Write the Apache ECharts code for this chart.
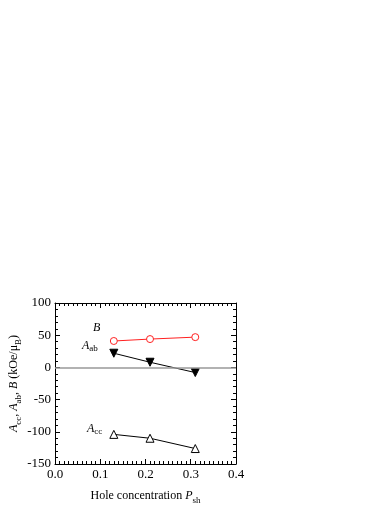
<!DOCTYPE html>
<html><head><meta charset="utf-8">
<script src="https://cdn.jsdelivr.net/npm/echarts@6/dist/echarts.min.js"></script>
<style>html,body{margin:0;padding:0;background:#fff}#c{width:391px;height:506px}</style>
</head><body><div id="c"></div>
<script>
const xValues = [0.13, 0.21, 0.31];
const bValues = [41, 44, 47];
const aabValues = [22, 8, -8];
const accValues = [-104, -110, -126];
const xTicks = [0.0, 0.1, 0.2, 0.3, 0.4];
const yTicks = [-150, -100, -50, 0, 50, 100];

const F = 'Liberation Serif';
const chart = echarts.init(document.getElementById('c'));
const pair = v => xValues.map((x, i) => [x, v[i]]);
const line = {show: true, onZero: false, lineStyle: {color: '#000', width: 1}};
const tick = {show: true, inside: true, length: 5, lineStyle: {color: '#000'}};
const sub = {fontFamily: F, fontSize: 9, verticalAlign: 'bottom', padding: [0,0,-3,0], color: '#000'};
chart.setOption({
  animation: false,
  grid: {left: 55, right: 155, top: 303, bottom: 40},
  xAxis: [
    {type: 'value', min: xTicks[0], max: xTicks[xTicks.length-1], interval: 0.1, position: 'bottom',
      axisLine: line, axisTick: tick, splitLine: {show: false},
      minorTick: {show: true, splitNumber: 10, length: 3, lineStyle: {color: '#000'}},
      axisLabel: {color: '#000', fontFamily: F, fontSize: 13, margin: 4,
        formatter: v => v.toFixed(1)},
      name: '{n|Hole concentration }{i|P}{s|sh}', nameLocation: 'middle', nameGap: 26,
      nameTextStyle: {rich: {n: {fontFamily: F, fontSize: 12, color: '#000'},
        i: {fontFamily: F, fontSize: 12, fontStyle: 'italic', color: '#000'}, s: sub}}
    },
    {type: 'value', min: xTicks[0], max: xTicks[xTicks.length-1], interval: 0.1, position: 'top',
      axisLine: line, axisTick: tick, splitLine: {show: false},
      minorTick: {show: true, splitNumber: 10, length: 3, lineStyle: {color: '#000'}},
      axisLabel: {show: false}}
  ],
  yAxis: [
    {type: 'value', min: yTicks[0], max: yTicks[yTicks.length-1], interval: 50, position: 'left',
      axisLine: line, axisTick: tick, splitLine: {show: false},
      minorTick: {show: true, splitNumber: 5, length: 3, lineStyle: {color: '#000'}},
      axisLabel: {color: '#000', fontFamily: F, fontSize: 13, margin: 4},
      name: '{i|A}{s|cc}{n|, }{i|A}{s|ab}{n|, }{i|B}{n| (kOe/μ}{s|B}{n|)}',
      nameLocation: 'middle', nameGap: 33, nameRotate: 90,
      nameTextStyle: {rich: {n: {fontFamily: F, fontSize: 12, color: '#000'},
        i: {fontFamily: F, fontSize: 12, fontStyle: 'italic', color: '#000'}, s: sub}}
    },
    {type: 'value', min: yTicks[0], max: yTicks[yTicks.length-1], interval: 50, position: 'right',
      axisLine: line, axisTick: tick, splitLine: {show: false},
      minorTick: {show: true, splitNumber: 5, length: 3, lineStyle: {color: '#000'}},
      axisLabel: {show: false}}
  ],
  series: [
    {type: 'line', data: pair(bValues), symbol: 'circle', symbolSize: 7,
      lineStyle: {color: '#ff2020', width: 1},
      itemStyle: {color: '#fff', borderColor: '#ff2020', borderWidth: 1},
      markLine: {silent: true, symbol: 'none', label: {show: false},
        lineStyle: {color: '#999', width: 1.5, type: 'solid'}, data: [{yAxis: 0}]}},
    {type: 'line', data: pair(aabValues), symbol: 'triangle', symbolSize: 8, symbolRotate: 180,
      lineStyle: {color: '#000', width: 1},
      itemStyle: {color: '#000', borderColor: '#000', borderWidth: 1}},
    {type: 'line', data: pair(accValues), symbol: 'triangle', symbolSize: 8,
      lineStyle: {color: '#000', width: 1},
      itemStyle: {color: '#fff', borderColor: '#000', borderWidth: 1}}
  ],
  graphic: [
    {type: 'text', left: 93, top: 322, style: {text: 'B', font: 'italic 12px "Liberation Serif"', fill: '#000'}},
    {type: 'text', left: 82, top: 340, style: {
      text: '{i|A}{s|ab}', rich: {i: {fontFamily: F, fontSize: 12, fontStyle: 'italic', fill: '#000'},
        s: {fontFamily: F, fontSize: 9, fill: '#000', padding: [5,0,0,0]}}}},
    {type: 'text', left: 87, top: 423, style: {
      text: '{i|A}{s|cc}', rich: {i: {fontFamily: F, fontSize: 12, fontStyle: 'italic', fill: '#000'},
        s: {fontFamily: F, fontSize: 9, fill: '#000', padding: [5,0,0,0]}}}}
  ]
});
</script></body></html>
